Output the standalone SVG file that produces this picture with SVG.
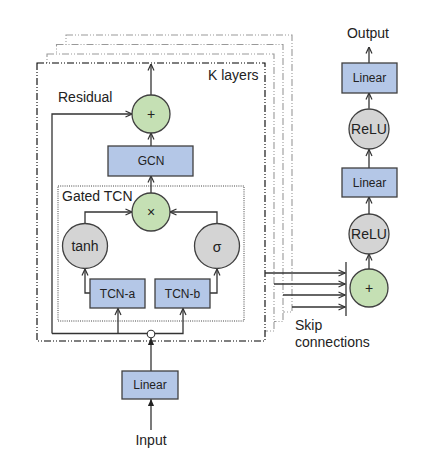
<svg xmlns="http://www.w3.org/2000/svg" width="428" height="463" viewBox="0 0 428 463">
<style>
text{font-family:"Liberation Sans",Arial,sans-serif;fill:#222}
.lbl{font-size:14px}
.box{fill:#b4c7e7;stroke:#404040;stroke-width:1.3}
.bt{font-size:12px;text-anchor:middle}
.green{fill:#c5e0b4;stroke:#404040;stroke-width:1.3}
.gray{fill:#d4d4d4;stroke:#404040;stroke-width:1.3}
.ct{font-size:14px;text-anchor:middle}
.line{fill:none;stroke:#333;stroke-width:1.3}
.frame{fill:#fff;stroke:#000;stroke-width:1.1;stroke-dasharray:7 2 1 2 1 2}
.bframe{fill:#fff;stroke:#999;stroke-width:1.1;stroke-dasharray:7 2 1 2 1 2}
</style>
<defs>
<marker id="arr" viewBox="0 0 8 8" refX="7.5" refY="4" markerWidth="8" markerHeight="8" markerUnits="userSpaceOnUse" orient="auto">
<path d="M1,1 L7.5,4 L1,7" fill="none" stroke="#333" stroke-width="1.2"/>
</marker>
<marker id="fill" viewBox="0 0 8 8" refX="8" refY="4" markerWidth="7" markerHeight="7" markerUnits="userSpaceOnUse" orient="auto">
<path d="M0,0.5 L8,4 L0,7.5 Z" fill="#222"/>
</marker>
</defs>

<g id="frames">
<rect class="bframe" x="66" y="35" width="226" height="277"/>
<rect class="bframe" x="56.5" y="44.5" width="226.5" height="277"/>
<rect class="bframe" x="47" y="54" width="227" height="277"/>
<rect class="frame" x="37" y="63" width="228" height="278"/>
<text class="lbl" x="208" y="80">K layers</text>
</g>

<g id="gated-box">
<rect x="58" y="186" width="186" height="135" fill="none" stroke="#444" stroke-width="1" stroke-dasharray="1 1.2"/>
<text class="lbl" x="62" y="201">Gated TCN</text>
</g>

<g id="connectors">
<line class="line" x1="151" y1="95" x2="151" y2="64" marker-end="url(#arr)"/>
<line class="line" x1="151" y1="146" x2="151" y2="133" marker-end="url(#arr)"/>
<line class="line" x1="151" y1="193" x2="151" y2="176" marker-end="url(#arr)"/>
<polyline class="line" points="52,333.5 52,114 132,114" marker-end="url(#arr)"/>
<polyline class="line" points="85,223.5 85,212 132,212" marker-end="url(#arr)"/>
<polyline class="line" points="217,223.5 217,212 170,212" marker-end="url(#arr)"/>
<polyline class="line" points="90,293 85,293 85,269" marker-end="url(#arr)"/>
<polyline class="line" points="210,293 217,293 217,269" marker-end="url(#arr)"/>
<polyline class="line" points="52,333.5 183,333.5 183,308.5" marker-end="url(#arr)"/>
<line class="line" x1="118" y1="333.5" x2="118" y2="308.5" marker-end="url(#arr)"/>
<line class="line" x1="151" y1="371" x2="151" y2="338" marker-end="url(#fill)"/>
<line class="line" x1="151" y1="430" x2="151" y2="399" marker-end="url(#fill)"/>
<line class="line" x1="369" y1="63" x2="369" y2="47" marker-end="url(#arr)"/>
<line class="line" x1="369" y1="108.5" x2="369" y2="93" marker-end="url(#arr)"/>
<line class="line" x1="369" y1="168" x2="369" y2="149.5" marker-end="url(#arr)"/>
<line class="line" x1="369" y1="214" x2="369" y2="197" marker-end="url(#arr)"/>
<line class="line" x1="369" y1="269" x2="369" y2="254" marker-end="url(#arr)"/>
<line class="line" x1="346" y1="262" x2="346" y2="316"/>
<line class="line" x1="265" y1="273" x2="345" y2="273" marker-end="url(#arr)"/>
<line class="line" x1="274" y1="284" x2="345" y2="284" marker-end="url(#arr)"/>
<line class="line" x1="283" y1="295" x2="345" y2="295" marker-end="url(#arr)"/>
<line class="line" x1="292" y1="307" x2="345" y2="307" marker-end="url(#arr)"/>
<circle cx="151" cy="334" r="3.8" fill="#fff" stroke="#333" stroke-width="1.1"/>
</g>

<g id="residual-label"><text class="lbl" x="58" y="102">Residual</text></g>

<g id="add-main">
<circle class="green" cx="151" cy="114" r="19"/>
<text class="ct" x="151" y="119" font-size="13">+</text>
</g>
<g id="gcn">
<rect class="box" x="108" y="146" width="85" height="30"/>
<text class="bt" x="151" y="165" font-size="11">GCN</text>
</g>
<g id="mul">
<circle class="green" cx="151" cy="212" r="19"/>
<text class="ct" x="151" y="217" font-size="13">×</text>
</g>
<g id="tanh">
<circle class="gray" cx="85" cy="246" r="22.5"/>
<text class="ct" x="85" y="251">tanh</text>
</g>
<g id="sigma">
<circle class="gray" cx="217" cy="246" r="22.5"/>
<text class="ct" x="217" y="252" font-size="18">σ</text>
</g>
<g id="tcn-a">
<rect class="box" x="90" y="279" width="55" height="29"/>
<text class="bt" x="117.5" y="298">TCN-a</text>
</g>
<g id="tcn-b">
<rect class="box" x="155" y="279" width="55" height="29"/>
<text class="bt" x="182.5" y="298">TCN-b</text>
</g>
<g id="linear-in">
<rect class="box" x="122" y="371" width="56" height="28"/>
<text class="bt" x="150" y="389">Linear</text>
</g>
<g id="input"><text class="ct" x="151" y="445" font-size="13.5">Input</text></g>

<g id="add-out">
<circle class="green" cx="369" cy="288" r="19"/>
<text class="ct" x="369" y="293" font-size="13">+</text>
</g>
<g id="relu-1">
<circle class="gray" cx="369" cy="234" r="20"/>
<text class="ct" x="369" y="239">ReLU</text>
</g>
<g id="linear-1">
<rect class="box" x="342" y="168" width="55" height="29"/>
<text class="bt" x="369.5" y="187">Linear</text>
</g>
<g id="relu-2">
<circle class="gray" cx="369" cy="129" r="20"/>
<text class="ct" x="369" y="134">ReLU</text>
</g>
<g id="linear-2">
<rect class="box" x="342" y="63" width="55" height="30"/>
<text class="bt" x="369.5" y="82">Linear</text>
</g>
<g id="output"><text class="ct" x="368" y="38" font-size="13.5">Output</text></g>
<g id="skip-label">
<text class="lbl" x="295" y="330">Skip</text>
<text class="lbl" x="295" y="347">connections</text>
</g>
</svg>
